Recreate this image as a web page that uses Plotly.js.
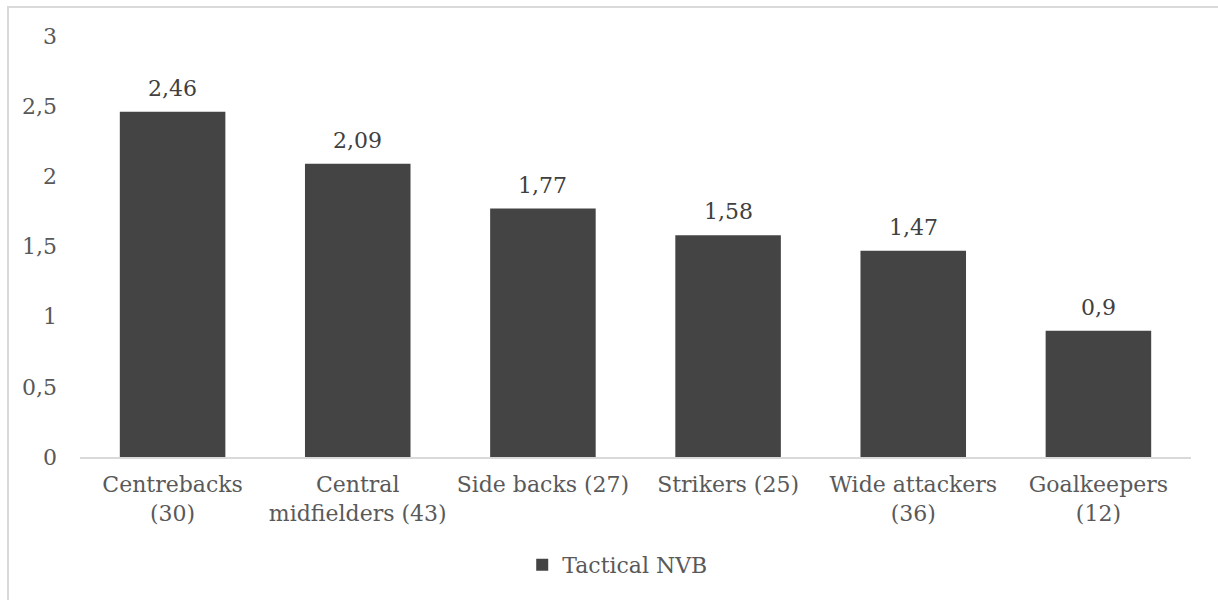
<!DOCTYPE html>
<html><head><meta charset="utf-8">
<script src="https://cdn.plot.ly/plotly-3.0.1.min.js"></script>
<style>
html,body{margin:0;padding:0;background:#fff;overflow:hidden;}
#frame{position:absolute;left:7px;top:6px;width:1300px;height:700px;border-left:2px solid #d9d9d9;border-top:2px solid #d9d9d9;}
#chart{position:absolute;left:0;top:0;width:1218px;height:600px;}
</style>
</head><body>
<div id="frame"></div>
<div id="chart"></div>
<script>
const categories = ["Centrebacks<br>(30)", "Central<br>midfielders (43)", "Side backs (27)", "Strikers (25)", "Wide attackers<br>(36)", "Goalkeepers<br>(12)"];
const values = [2.46, 2.09, 1.77, 1.58, 1.47, 0.9];
const valueLabels = ["2,46", "2,09", "1,77", "1,58", "1,47", "0,9"];
const seriesName = "Tactical NVB";
const yTicks = [0, 0.5, 1, 1.5, 2, 2.5, 3];
const yTickLabels = ["0", "0,5", "1", "1,5", "2", "2,5", "3"];

const FONT = "DejaVu Serif, serif";
const trace = {
  type: "bar", x: categories, y: values, name: seriesName,
  marker: {color: "#444444"}, showlegend: true, hoverinfo: "none"
};
const annotations = categories.map((c, i) => ({
  x: c, y: values[i], text: valueLabels[i], showarrow: false,
  yanchor: "bottom", yshift: 9, xref: "x", yref: "y",
  font: {family: FONT, size: 22, color: "#404040"}
}));
const layout = {
  width: 1218, height: 600,
  margin: {l: 80, r: 27, t: 36, b: 143},
  paper_bgcolor: "rgba(0,0,0,0)", plot_bgcolor: "rgba(0,0,0,0)",
  separators: ", ",
  bargap: 0.43,
  font: {family: FONT, size: 22, color: "#595959"},
  xaxis: {type: "category", showline: true, linecolor: "#d9d9d9", linewidth: 2,
          ticks: "", showgrid: false, ticklabelstandoff: 7,
          tickfont: {family: FONT, size: 22, color: "#595959"}, automargin: false},
  yaxis: {range: [0, 3], tickvals: yTicks, ticktext: yTickLabels, showgrid: false, zeroline: false,
          showline: false, ticks: "", ticklabelstandoff: 22,
          tickfont: {family: FONT, size: 22, color: "#595959"}, automargin: false},
  legend: {orientation: "h", x: 0.484, xanchor: "center", y: -0.2565, yanchor: "middle",
           font: {family: FONT, size: 22, color: "#595959"}},
  annotations: annotations
};
Plotly.newPlot("chart", [trace], layout, {displayModeBar: false, staticPlot: true});
</script>
</body></html>
